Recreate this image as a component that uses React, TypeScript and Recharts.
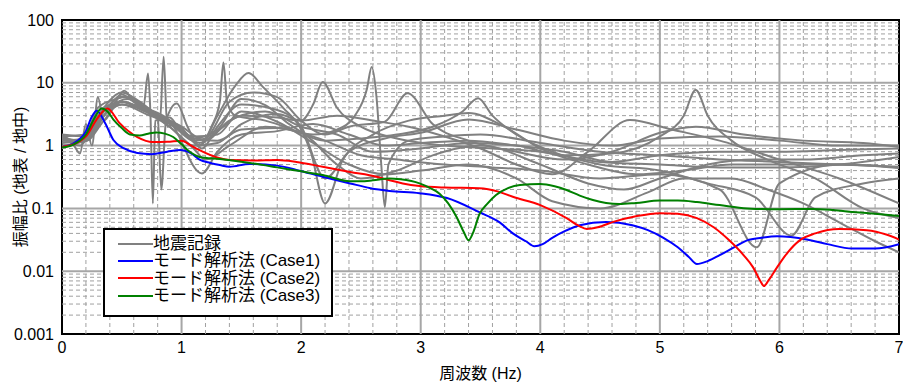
import { LineChart, Line, XAxis, YAxis, ReferenceLine, ReferenceArea } from "recharts"

const FONT = '"Liberation Sans", Arial, "Noto Sans CJK JP", sans-serif'

const GRAY = "#808080"
const BLUE = "#0000ff"
const RED = "#ff0000"
const GREEN = "#008000"
const GRID_MAJOR = "#a6a6a6"
const GRID_MINOR = "#a0a0a0"

// axis ticks
const X_TICKS = [0, 1, 2, 3, 4, 5, 6, 7]
const X_MINOR = [0.2, 0.4, 0.6, 0.8, 1.2, 1.4, 1.6, 1.8, 2.2, 2.4, 2.6, 2.8, 3.2, 3.4, 3.6, 3.8, 4.2, 4.4, 4.6, 4.8, 5.2, 5.4, 5.6, 5.8, 6.2, 6.4, 6.6, 6.8]
const Y_TICKS = [0.001, 0.01, 0.1, 1, 10, 100]
const Y_MULTS = [2, 3, 4, 5, 6, 7, 8, 9]

// earthquake records: [frequency Hz, ratio]
const REC_A: [number, number][] = [[0, 1.4], [0.1, 1.0], [0.15, 0.75], [0.2, 2.2], [0.25, 1.0], [0.3, 5.9], [0.35, 2.5], [0.45, 5], [0.52, 7.5], [0.6, 5], [0.7, 4], [0.78, 3], [0.82, 2.5], [0.85, 26], [0.88, 2], [0.95, 2.2], [1.05, 1.5], [1.17, 0.9], [1.3, 2], [1.5, 4.5], [1.8, 3.7], [2.0, 2], [2.2, 0.3], [2.4, 0.8], [2.7, 1.3], [3.0, 1.6], [3.4, 2.6], [3.8, 1.8], [4.2, 1.2], [4.6, 1.0], [5.0, 1.3], [5.5, 1.4], [6.0, 1.2], [6.5, 1.0], [7, 1.0]]
const REC_B: [number, number][] = [[0, 1.3], [0.1, 1.1], [0.2, 1.4], [0.3, 3.5], [0.4, 4.5], [0.5, 6.5], [0.6, 5], [0.68, 4], [0.72, 14], [0.74, 3], [0.76, 0.12], [0.78, 2.5], [0.9, 2.8], [1.0, 1.6], [1.1, 1.2], [1.2, 1.3], [1.4, 5], [1.6, 7], [1.8, 5.9], [2.0, 2.5], [2.2, 1.5], [2.4, 2], [2.7, 2.4], [2.89, 6.8], [3.1, 2.2], [3.4, 1.2], [3.8, 0.8], [4.2, 0.6], [4.6, 0.8], [5, 1.6], [5.3, 2], [5.7, 1.5], [6.2, 1.2], [6.7, 1.1], [7, 0.95]]
const REC_C: [number, number][] = [[0, 1.5], [0.1, 1.2], [0.2, 1.5], [0.3, 4], [0.45, 5.5], [0.55, 6], [0.7, 4], [0.8, 3], [0.83, 0.2], [0.87, 2.5], [0.96, 4.7], [1.05, 2], [1.15, 1], [1.25, 2], [1.32, 5], [1.35, 21], [1.38, 5], [1.45, 3], [1.7, 2.5], [2.0, 1.6], [2.2, 1.2], [2.5, 0.7], [2.8, 0.6], [3.2, 0.5], [3.6, 0.45], [4.0, 0.4], [4.5, 0.3], [5.0, 0.35], [5.5, 0.2], [5.81, 0.024], [6.0, 0.25], [6.5, 0.5], [7, 0.45]]
const REC_D: [number, number][] = [[0, 1.4], [0.15, 1.0], [0.3, 3], [0.5, 5], [0.6, 4.5], [0.8, 3], [1.0, 1.8], [1.15, 1.1], [1.3, 1.7], [1.5, 3], [1.8, 2.8], [2.0, 2.5], [2.1, 4.5], [2.18, 10.3], [2.3, 4], [2.5, 2], [2.8, 1.3], [3.2, 1.0], [3.6, 0.9], [4.0, 0.8], [4.5, 0.55], [5, 0.5], [5.5, 0.45], [6, 0.45], [6.5, 0.5], [7, 0.66]]
const REC_E: [number, number][] = [[0, 1.2], [0.2, 1.3], [0.35, 3.5], [0.5, 5], [0.7, 3.5], [0.9, 2.5], [1.1, 1.3], [1.3, 1.2], [1.5, 1.8], [1.8, 1.9], [2.1, 1.5], [2.3, 1.8], [2.45, 3], [2.55, 8], [2.59, 17.8], [2.63, 6], [2.67, 0.5], [2.7, 0.105], [2.73, 0.5], [2.9, 1.2], [3.2, 1.4], [3.5, 1.5], [4, 1.1], [4.5, 0.8], [5, 0.7], [5.5, 0.6], [6, 0.55], [6.5, 0.5], [7, 0.46]]
const REC_F: [number, number][] = [[0, 1.0], [0.2, 1.2], [0.35, 3], [0.5, 4.5], [0.7, 3.2], [0.9, 2.2], [1.1, 1.3], [1.3, 1.8], [1.5, 5.5], [1.7, 4.4], [1.9, 2.2], [2.2, 1.2], [2.5, 1.3], [2.8, 1.5], [3.1, 2], [3.35, 3.5], [3.48, 5.7], [3.6, 3], [3.8, 1.5], [4.1, 0.8], [4.5, 0.5], [5, 0.4], [5.4, 0.25], [5.8, 0.15], [6.1, 0.037], [6.3, 0.15], [6.7, 0.25], [7, 0.3]]
const REC_G: [number, number][] = [[0, 1.3], [0.2, 1.2], [0.4, 4], [0.55, 5.5], [0.75, 3.5], [1.0, 2], [1.2, 1.2], [1.4, 2.5], [1.7, 3.5], [2.0, 2], [2.3, 1.5], [2.6, 0.8], [3.0, 0.9], [3.4, 1.1], [3.8, 1.0], [4.2, 0.7], [4.6, 0.75], [5.0, 1.4], [5.2, 3], [5.3, 7.7], [5.4, 3], [5.6, 1.2], [5.9, 0.6], [6.3, 0.3], [6.7, 0.1], [7, 0.07]]
const REC_H: [number, number][] = [[0, 1.5], [0.2, 1.4], [0.35, 4], [0.5, 7], [0.65, 5], [0.8, 3], [1.0, 1.8], [1.15, 1], [1.3, 3], [1.45, 9], [1.56, 14.3], [1.68, 8.6], [1.85, 4], [2.0, 1.8], [2.08, 0.8], [2.2, 0.12], [2.35, 0.6], [2.6, 1.5], [2.9, 2.5], [3.2, 3], [3.4, 3.3], [3.7, 2], [4.0, 0.9], [4.4, 0.5], [4.8, 0.35], [5.2, 0.4], [5.6, 0.5], [6.0, 0.5], [6.5, 0.5], [7, 0.44]]
const REC_I: [number, number][] = [[0, 1.2], [0.2, 1.2], [0.35, 3], [0.5, 4.5], [0.7, 3.5], [0.9, 2], [1.1, 1], [1.3, 1.1], [1.5, 2.2], [1.8, 3.2], [2.0, 2.5], [2.3, 3], [2.6, 2.5], [2.9, 2], [3.2, 1.4], [3.5, 0.9], [3.8, 0.5], [4.1, 0.35], [4.4, 0.8], [4.75, 2.55], [5.1, 1.8], [5.5, 1.2], [6, 0.6], [6.5, 0.3], [7, 0.12]]
const REC_J: [number, number][] = [[0, 1.1], [0.2, 1.3], [0.35, 3], [0.5, 5], [0.7, 3.5], [0.9, 2], [1.1, 0.9], [1.2, 0.6], [1.4, 1.0], [1.7, 2], [2.0, 1.6], [2.3, 0.5], [2.5, 0.3], [2.8, 0.4], [3.1, 0.7], [3.5, 1.0], [4.0, 0.5], [4.4, 0.25], [4.7, 0.2], [5.0, 0.3], [5.4, 0.5], [5.8, 0.6], [6.2, 0.6], [6.7, 0.7], [7, 0.75]]
const REC_K: [number, number][] = [[0, 1.4], [0.2, 1.5], [0.35, 3.5], [0.5, 6], [0.7, 4], [0.9, 2.5], [1.17, 0.36], [1.3, 0.8], [1.5, 1.5], [1.8, 1.7], [2.1, 2.2], [2.4, 1.5], [2.7, 1.0], [3.0, 1.1], [3.4, 1.2], [3.8, 1.0], [4.2, 0.8], [4.6, 0.55], [5.0, 0.7], [5.5, 0.8], [6, 0.8], [6.5, 0.85], [7, 0.9]]
const REC_L: [number, number][] = [[0, 1.3], [0.2, 1.2], [0.35, 2.5], [0.5, 5], [0.7, 3.5], [0.9, 2.3], [1.1, 1.4], [1.3, 1.5], [1.5, 3.5], [1.8, 2.4], [2.1, 1.1], [2.4, 0.5], [2.7, 0.35], [3.0, 0.4], [3.4, 0.5], [3.8, 0.3], [4.1, 0.13], [4.5, 0.1], [4.9, 0.18], [5.2, 0.3], [5.6, 0.3], [5.9, 0.2], [6.2, 0.12], [6.5, 0.06], [6.8, 0.03], [7, 0.02]]

const RECORDS = [REC_A, REC_B, REC_C, REC_D, REC_E, REC_F, REC_G, REC_H, REC_I, REC_J, REC_K, REC_L]

// modal analysis, Case1
const CASE1_F = [0, 0.1, 0.2, 0.25, 0.29, 0.36, 0.43, 0.52, 0.63, 0.75, 0.88, 0.99, 1.08, 1.15, 1.24, 1.32, 1.4, 1.57, 1.8, 1.96, 2.18, 2.41, 2.58, 2.74, 2.99, 3.22, 3.49, 3.66, 3.77, 3.88, 3.95, 4.02, 4.1, 4.2, 4.33, 4.55, 4.77, 4.9, 5.03, 5.15, 5.24, 5.31, 5.4, 5.5, 5.62, 5.73, 5.85, 5.98, 6.23, 6.4, 6.61, 6.8, 7]
const CASE1_V = [0.95, 1.1, 1.7, 2.9, 3.6, 2.3, 1.23, 0.9, 0.76, 0.73, 0.8, 0.85, 0.75, 0.6, 0.53, 0.49, 0.46, 0.51, 0.48, 0.41, 0.32, 0.25, 0.21, 0.19, 0.175, 0.146, 0.087, 0.06, 0.04, 0.03, 0.025, 0.027, 0.034, 0.043, 0.054, 0.061, 0.054, 0.045, 0.034, 0.024, 0.017, 0.013, 0.0145, 0.018, 0.024, 0.031, 0.034, 0.036, 0.032, 0.027, 0.023, 0.023, 0.027]

// Case2
const CASE2_F = [0, 0.1, 0.2, 0.3, 0.38, 0.48, 0.63, 0.76, 0.88, 1.0, 1.08, 1.15, 1.32, 1.4, 1.6, 1.8, 1.96, 2.18, 2.41, 2.63, 2.74, 2.85, 2.99, 3.2, 3.49, 3.65, 3.77, 4.0, 4.22, 4.32, 4.39, 4.48, 4.61, 4.8, 5.0, 5.15, 5.31, 5.45, 5.58, 5.7, 5.78, 5.84, 5.87, 5.91, 5.98, 6.07, 6.17, 6.3, 6.5, 6.73, 6.9, 7]
const CASE2_V = [0.95, 1.05, 1.4, 2.8, 3.9, 2.3, 1.37, 1.14, 1.15, 1.2, 1.0, 0.85, 0.63, 0.59, 0.58, 0.59, 0.55, 0.46, 0.38, 0.32, 0.28, 0.25, 0.227, 0.215, 0.21, 0.185, 0.153, 0.113, 0.07, 0.053, 0.047, 0.05, 0.061, 0.075, 0.084, 0.082, 0.07, 0.05, 0.031, 0.018, 0.0115, 0.007, 0.0058, 0.0072, 0.0115, 0.02, 0.031, 0.04, 0.047, 0.045, 0.038, 0.032]

// Case3
const CASE3_F = [0, 0.1, 0.2, 0.27, 0.33, 0.38, 0.43, 0.5, 0.57, 0.65, 0.72, 0.79, 0.86, 0.93, 1.0, 1.06, 1.15, 1.32, 1.57, 1.8, 1.96, 2.18, 2.41, 2.5, 2.6, 2.74, 2.83, 2.99, 3.08, 3.16, 3.23, 3.3, 3.36, 3.4, 3.44, 3.49, 3.56, 3.63, 3.73, 3.83, 4.0, 4.12, 4.22, 4.33, 4.44, 4.55, 4.66, 4.8, 5.0, 5.15, 5.31, 5.5, 5.73, 6.0, 6.28, 6.45, 6.61, 6.8, 7]
const CASE3_V = [0.93, 1.05, 1.5, 2.7, 3.9, 3.5, 2.6, 1.9, 1.5, 1.45, 1.55, 1.62, 1.55, 1.37, 1.05, 0.82, 0.66, 0.61, 0.53, 0.45, 0.4, 0.34, 0.27, 0.27, 0.28, 0.3, 0.29, 0.25, 0.21, 0.17, 0.12, 0.073, 0.042, 0.031, 0.042, 0.08, 0.12, 0.163, 0.21, 0.236, 0.245, 0.225, 0.196, 0.16, 0.136, 0.122, 0.117, 0.122, 0.133, 0.133, 0.126, 0.113, 0.1, 0.097, 0.098, 0.094, 0.088, 0.082, 0.076]

const LEGEND_ITEMS = [
  { label: "地震記録", color: GRAY },
  { label: "モード解析法 (Case1)", color: BLUE },
  { label: "モード解析法 (Case2)", color: RED },
  { label: "モード解析法 (Case3)", color: GREEN },
]

function toPoints(f: number[], v: number[]) {
  return f.map((x, i) => ({ f: x, v: v[i] }))
}

function pairsToPoints(pairs: [number, number][]) {
  return pairs.map(([f, v]) => ({ f, v }))
}

const Y_MINOR = Y_TICKS.slice(0, -1).flatMap((d) => Y_MULTS.map((m) => +(d * m).toPrecision(3)))

function ChartLegend() {
  return (
    <div
      style={{
        position: "absolute",
        left: 103,
        top: 228,
        width: 226,
        height: 80,
        border: "2px solid #000",
        background: "#fff",
        fontFamily: FONT,
        fontSize: 17,
        color: "#000",
        paddingTop: 5,
        boxSizing: "content-box",
      }}
    >
      {LEGEND_ITEMS.map((item) => (
        <div key={item.label} style={{ display: "flex", alignItems: "center", height: 17.3, lineHeight: "17px" }}>
          <span style={{ display: "inline-block", width: 35, height: 2, marginLeft: 13, background: item.color }} />
          <span style={{ whiteSpace: "nowrap" }}>{item.label}</span>
        </div>
      ))}
    </div>
  )
}

export default function App() {
  return (
    <div style={{ position: "absolute", left: 0, top: 0, width: 903, height: 383, background: "#fff", fontFamily: FONT }}>
      <LineChart width={903} height={383} margin={{ top: 20, right: 4, bottom: 0, left: 0 }}>
        <XAxis
          dataKey="f"
          type="number"
          domain={[0, 7]}
          ticks={X_TICKS}
          allowDataOverflow
          axisLine={false}
          tickLine={false}
          height={49}
          tick={{ fontSize: 16, fill: "#000", fontFamily: FONT }}
          label={{ value: "周波数 (Hz)", position: "insideBottom", offset: 4, fontSize: 16, fill: "#000", fontFamily: FONT }}
        />
        <YAxis
          dataKey="v"
          scale="log"
          domain={[0.001, 100]}
          ticks={Y_TICKS}
          allowDataOverflow
          axisLine={false}
          tickLine={false}
          width={62}
          tick={{ fontSize: 16, fill: "#000", fontFamily: FONT }}
          label={{
            value: "振幅比 (地表 / 地中)",
            angle: -90,
            position: "insideLeft",
            offset: 20,
            fontSize: 16,
            fill: "#000",
            fontFamily: FONT,
            style: { textAnchor: "middle" },
          }}
        />

        {X_MINOR.map((x) => (
          <ReferenceLine key={"xm" + x} x={x} stroke={GRID_MINOR} strokeDasharray="4 3" />
        ))}
        {Y_MINOR.map((y) => (
          <ReferenceLine key={"ym" + y} y={y} stroke={GRID_MINOR} strokeDasharray="4 3" />
        ))}
        {X_TICKS.slice(1, -1).map((x) => (
          <ReferenceLine key={"xM" + x} x={x} stroke={GRID_MAJOR} strokeWidth={2} />
        ))}
        {Y_TICKS.slice(1, -1).map((y) => (
          <ReferenceLine key={"yM" + y} y={y} stroke={GRID_MAJOR} strokeWidth={2} />
        ))}

        {RECORDS.map((rec, i) => (
          <Line
            key={"rec" + i}
            data={pairsToPoints(rec)}
            dataKey="v"
            type="monotone"
            stroke={GRAY}
            strokeWidth={2}
            dot={false}
            isAnimationActive={false}
          />
        ))}
        <Line data={toPoints(CASE1_F, CASE1_V)} dataKey="v" type="monotone" stroke={BLUE} strokeWidth={2} dot={false} isAnimationActive={false} />
        <Line data={toPoints(CASE2_F, CASE2_V)} dataKey="v" type="monotone" stroke={RED} strokeWidth={2} dot={false} isAnimationActive={false} />
        <Line data={toPoints(CASE3_F, CASE3_V)} dataKey="v" type="monotone" stroke={GREEN} strokeWidth={2} dot={false} isAnimationActive={false} />

        <ReferenceArea x1={0} x2={7} y1={0.001} y2={100} fill="none" stroke="#000" strokeWidth={2} />
      </LineChart>
      <ChartLegend />
    </div>
  )
}
